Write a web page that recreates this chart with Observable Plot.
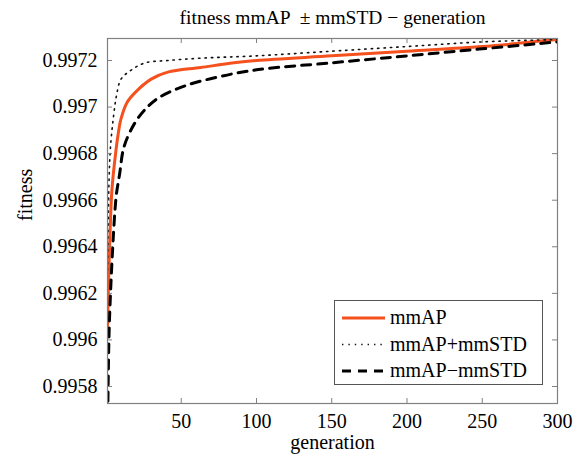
<!DOCTYPE html>
<html><head><meta charset="utf-8">
<script src="https://cdn.jsdelivr.net/npm/d3@7"></script>
<script src="https://cdn.jsdelivr.net/npm/@observablehq/plot@0.6"></script>
<style>
body{margin:0;background:#fff;}
svg text{white-space:pre;font-family:"Liberation Serif","Times New Roman",Times,serif !important;font-variant:normal !important;}
</style></head><body><div id="chart"></div>
<script>
// ---- data ----
const genMean = [1,2,3,4,6,8,10,14,19,30,41,63,85,100,150,200,250,300];
const mmAP    = [0.99606,0.99632,0.99652,0.99665,0.99678,0.99688,0.99695,0.99702,0.99706,0.99712,0.99715,0.99717,0.99719,0.99720,0.99722,0.99724,0.99726,0.99729];
const genPlus = [1,2,3,5,7,10,17,26,41,63,100,150,200,250,300];
const mmAPplusSTD = [0.99630,0.99668,0.99683,0.99696,0.99705,0.99712,0.99716,0.99719,0.99720,0.99721,0.99722,0.99724,0.99726,0.99728,0.99729];
const genMinus = [1,2,3,4,5,6,7,9,12,19,26,35,52,75,100,150,200,250,300];
const mmAPminusSTD = [0.99560,0.99602,0.99620,0.99634,0.99646,0.99656,0.99663,0.99671,0.99683,0.99693,0.99699,0.99704,0.99709,0.99713,0.99716,0.99719,0.99722,0.99725,0.99728];
const xTicks = [50,100,150,200,250,300];
const yTicks = [0.9958,0.996,0.9962,0.9964,0.9966,0.9968,0.997,0.9972];
const seriesNames = ["mmAP","mmAP+mmSTD","mmAP\u2212mmSTD"];
const titleText = "fitness mmAP  \u00b1 mmSTD \u2212 generation";
const xLabel = "generation";
const yLabel = "fitness";

// ---- layout ----
const W=582,H=456,mL=107,mR=25,mT=38,mB=53;
const fw=W-mL-mR, fh=H-mT-mB;
const font="Liberation Serif, Times New Roman, Times, serif";
const red="#f4511e", axisCol="#808080";
const rows=(g,v,s)=>g.map((x,i)=>({generation:x,fitness:v[i],series:s}));
const meanRows=rows(genMean,mmAP,seriesNames[0]);
const plusRows=rows(genPlus,mmAPplusSTD,seriesNames[1]);
const minusRows=rows(genMinus,mmAPminusSTD,seriesNames[2]);
const yfmt=d3.format(".4~f");
const dotDash="1.4,5", dashDash="9,7";

const chart=Plot.plot({
  width:W,height:H,marginLeft:mL,marginRight:mR,marginTop:mT,marginBottom:mB,
  style:{fontFamily:font,fontSize:"20px",color:"#000",background:"#fff"},
  x:{domain:[1,300]},
  y:{domain:[0.995727,0.9972945]},
  marks:[
    Plot.axisX({ticks:xTicks,tickSize:0,tickPadding:10,tickFormat:d=>String(d),label:null,fontSize:20}),
    Plot.axisY({ticks:yTicks,tickSize:0,tickPadding:10,tickFormat:yfmt,label:null,fontSize:20}),
    Plot.line(meanRows,{x:"generation",y:"fitness",stroke:red,strokeWidth:3,curve:"catmull-rom",clip:true}),
    Plot.line(plusRows,{x:"generation",y:"fitness",stroke:"#111",strokeWidth:1.6,strokeDasharray:dotDash,curve:"catmull-rom",clip:true}),
    Plot.line(minusRows,{x:"generation",y:"fitness",stroke:"#000",strokeWidth:3,strokeDasharray:dashDash,curve:"catmull-rom",clip:true}),
    Plot.ruleX(xTicks,{x:d=>d,insetTop:fh-5,stroke:axisCol}),
    Plot.ruleX(xTicks,{x:d=>d,insetBottom:fh-5,stroke:axisCol}),
    Plot.ruleY(yTicks,{y:d=>d,insetRight:fw-5,stroke:axisCol}),
    Plot.ruleY(yTicks,{y:d=>d,insetLeft:fw-5,stroke:axisCol}),
    Plot.frame({stroke:axisCol,strokeWidth:1.2}),
    Plot.text([titleText],{frameAnchor:"top",dy:-21,dx:0,lineAnchor:"middle",fontSize:19.5}),
    Plot.text([xLabel],{frameAnchor:"bottom",dy:39,lineAnchor:"middle",fontSize:20}),
    Plot.text([yLabel],{frameAnchor:"left",dx:-82,rotate:-90,lineAnchor:"middle",fontSize:20})
  ]
});
document.getElementById("chart").appendChild(chart);

// ---- legend ----
const svg=d3.select(chart);
const lg=svg.append("g").attr("text-anchor","start");
lg.append("rect").attr("x",334.5).attr("y",300.5).attr("width",208).attr("height",84)
  .attr("fill","#fff").attr("stroke","#555").attr("stroke-width",1);
const styles=[
  {stroke:red,w:3,dash:null},
  {stroke:"#111",w:1.6,dash:dotDash},
  {stroke:"#000",w:3,dash:dashDash}
];
seriesNames.forEach((name,i)=>{
  const cy=318+i*26.5;
  const l=lg.append("line").attr("x1",342).attr("x2",385).attr("y1",cy).attr("y2",cy)
    .attr("stroke",styles[i].stroke).attr("stroke-width",styles[i].w);
  if(styles[i].dash) l.attr("stroke-dasharray",styles[i].dash);
  lg.append("text").attr("x",390).attr("y",cy).attr("dy","0.32em")
    .attr("font-size",20).attr("fill","#000").text(name);
});
</script></body></html>
